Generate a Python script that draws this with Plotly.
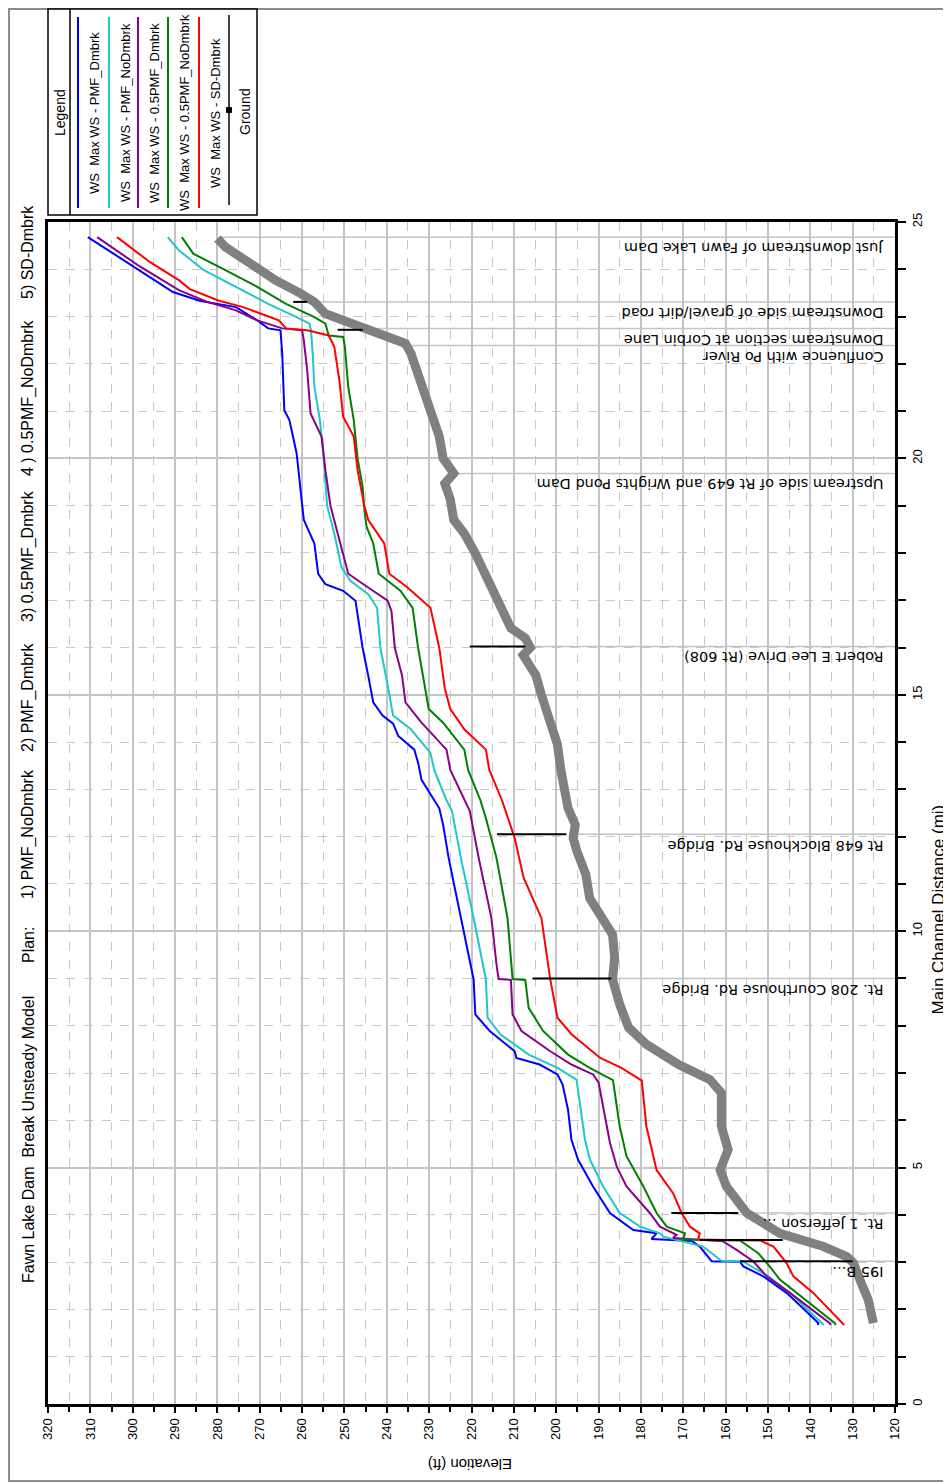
import plotly.graph_objects as go

# ---------------- data (distance in miles, elevation in ft) ----------------
blue_d = [24.68, 24.07, 23.52, 23.33, 23.20, 22.92, 22.75, 22.71, 22.22, 21.02, 20.81, 20.11, 19.13, 18.70, 18.20,
          17.56, 17.34, 17.20, 16.99, 16.49, 15.99, 15.41, 14.84, 14.56, 14.39, 14.13, 13.84, 13.56, 13.20, 12.77,
          12.60, 12.25, 11.55, 10.85, 10.28, 9.58, 8.98, 8.24, 7.89, 7.46, 7.32, 7.18, 6.97, 6.76, 6.22, 5.59, 5.16,
          4.60, 4.04, 3.68, 3.61, 3.49, 3.45, 3.33, 3.12, 3.02, 3.01, 2.91, 2.70, 2.35, 1.99, 1.71, 1.67]
blue_e = [310.6, 299.9, 290.5, 284.0, 275.6, 270.6, 268.0, 265.1, 264.7, 264.2, 263.0, 261.3, 260.0, 259.6, 257.1,
          256.2, 254.5, 250.3, 247.4, 246.5, 245.7, 244.4, 243.2, 241.0, 238.5, 237.3, 233.5, 232.6, 231.8, 228.8,
          227.6, 226.7, 225.4, 223.8, 222.5, 220.8, 219.5, 219.1, 215.7, 209.8, 209.4, 203.9, 199.7, 198.5, 197.2, 196.4, 194.8,
          191.3, 187.3, 181.8, 176.3, 177.5, 168.0, 166.1, 164.1, 163.3, 156.6, 155.8, 151.1, 145.6, 141.3, 138.1, 138.2]

cyan_d = [24.68, 24.40, 23.98, 23.63, 23.27, 22.99, 22.85, 22.71, 22.22, 21.51, 20.81, 20.11, 19.40, 19.00, 18.41,
          17.70, 17.41, 17.13, 16.84, 15.99, 15.20, 14.56, 14.27, 13.77, 13.41, 12.77, 12.54, 11.55, 10.28, 9.58, 8.98,
          8.17, 7.82, 7.39, 7.11, 6.86, 5.59, 5.16, 4.60, 4.04, 3.75, 3.61, 3.54, 3.33, 3.19, 3.03, 3.01, 2.70, 2.35,
          1.71, 1.67]
cyan_e = [291.7, 289.1, 283.2, 275.6, 268.0, 261.3, 258.3, 257.9, 257.5, 257.1, 255.8, 255.0, 254.5, 254.1, 252.4,
          250.7, 248.6, 244.4, 242.3, 241.5, 239.8, 238.5, 234.3, 229.7, 228.8, 225.9, 224.6, 222.5, 219.5, 217.9, 216.6,
          216.2, 213.2, 206.5, 199.7, 195.2, 193.2, 192.0, 188.9, 185.0, 180.2, 175.5, 174.7, 165.3, 163.3, 161.0, 155.8, 149.9, 144.8,
          137.3, 136.8]

purple_d = [24.68, 24.07, 23.56, 23.31, 23.13, 22.92, 22.75, 22.71, 22.50, 21.87, 20.95, 20.46, 19.75, 19.00, 18.41,
            17.56, 17.27, 16.99, 16.77, 15.99, 15.41, 14.84, 14.41, 13.84, 13.41, 12.77, 12.54, 11.55, 10.28, 9.30, 8.99,
            8.97, 8.24, 7.89, 7.46, 7.18, 6.97, 6.80, 5.87, 5.52, 5.02, 4.60, 4.04, 3.75, 3.58, 3.51, 3.44, 3.26, 3.02,
            2.70, 2.35, 1.71, 1.67]
purple_e = [308.4, 298.5, 289.1, 282.4, 275.6, 270.6, 264.7, 260.0, 259.6, 258.8, 258.0, 255.4, 254.5, 253.3, 251.6,
            249.1, 244.4, 239.8, 238.9, 238.1, 236.4, 235.6, 231.8, 225.9, 225.0, 221.7, 220.4, 218.3, 215.3, 214.1, 213.6,
            210.7, 210.3, 208.2, 201.4, 196.4, 191.3, 190.0, 188.1, 187.3, 185.7, 183.4, 177.9, 175.5, 171.6, 172.4, 160.6, 157.4, 153.5,
            150.3, 144.8, 135.4, 135.2]

green_d = [24.68, 24.33, 23.98, 23.63, 23.27, 22.99, 22.85, 22.60, 22.57, 22.36, 21.51, 20.81, 20.00, 19.40, 19.00,
           18.56, 18.20, 17.56, 17.20, 16.84, 15.99, 15.13, 14.70, 14.41, 13.84, 13.41, 12.77, 12.39, 11.55, 10.28, 8.99,
           8.97, 8.38, 7.89, 7.39, 7.11, 6.85, 5.87, 5.24, 4.60, 4.04, 3.75, 3.61, 3.48, 3.46, 3.19, 2.90, 2.63, 2.35,
           1.71, 1.67]
green_e = [288.4, 285.7, 278.1, 270.6, 263.8, 257.1, 254.5, 253.7, 250.3, 249.9, 249.1, 247.8, 246.9, 245.7, 245.4,
           244.8, 243.2, 241.9, 236.8, 233.9, 232.6, 230.9, 230.1, 226.7, 221.7, 220.8, 217.9, 216.6, 214.1, 211.5, 210.3,
           207.3, 206.5, 203.1, 197.2, 192.1, 186.6, 185.0, 183.4, 179.4, 176.3, 173.9, 169.6, 170.0, 156.6, 152.3, 149.5, 147.2, 143.2,
           134.2, 134.0]

red_d = [24.68, 24.15, 23.77, 23.58, 23.34, 23.20, 22.92, 22.75, 22.71, 22.60, 22.36, 21.65, 20.88, 20.46, 19.75,
         19.00, 18.70, 18.20, 17.56, 17.27, 16.84, 15.99, 15.13, 14.70, 14.27, 13.84, 13.41, 12.77, 11.97, 11.13, 10.28,
         9.58, 8.98, 8.17, 7.82, 7.32, 7.11, 6.84, 5.87, 4.95, 4.46, 4.04, 3.75, 3.61, 3.48, 3.46, 3.33, 2.98, 2.70,
         2.35, 1.71, 1.67]
red_e = [303.7, 295.9, 289.1, 286.5, 279.8, 273.9, 265.5, 263.8, 258.8, 253.7, 252.4, 251.2, 250.3, 247.8, 246.9,
         245.3, 244.4, 240.6, 239.4, 235.1, 229.7, 227.6, 226.3, 225.0, 221.7, 216.6, 215.8, 212.8, 209.8, 207.7, 203.5,
         202.3, 201.4, 199.7, 196.4, 189.6, 184.6, 179.8, 178.7, 176.3, 172.4, 170.4, 168.4, 166.1, 166.5, 151.9, 148.7, 145.6, 144.0,
         139.3, 132.2, 132.0]

ground_d = [24.65, 24.47, 24.12, 23.77, 23.49, 23.31, 23.06, 22.92, 22.71, 22.57, 22.43, 22.22, 21.87, 21.51, 21.02,
            20.46, 20.00, 19.68, 19.47, 19.13, 18.70, 18.41, 17.99, 17.41, 16.99, 16.41, 16.20, 16.00, 15.84, 15.41,
            15.00, 14.49, 13.95, 13.41, 12.84, 12.60, 12.25, 11.97, 11.69, 11.20, 10.70, 10.28, 9.93, 9.44, 8.98, 8.45,
            7.96, 7.60, 7.18, 6.86, 6.58, 5.87, 5.38, 4.95, 4.60, 4.32, 4.04, 3.61, 3.33, 3.12, 2.98, 2.63, 2.20, 1.71]
ground_e = [280.0, 278.1, 272.2, 266.3, 260.4, 257.1, 254.5, 250.3, 245.3, 240.2, 235.6, 234.3, 233.0, 231.8, 230.1,
            227.6, 226.7, 224.2, 226.3, 225.0, 224.2, 221.7, 219.1, 216.2, 214.1, 210.7, 207.3, 206.1, 207.8, 204.8,
            203.5, 201.4, 199.7, 198.9, 198.0, 197.2, 195.5, 196.0, 195.1, 193.0, 192.1, 189.2, 186.7, 186.2, 186.7, 185.0,
            182.9, 178.6, 171.1, 163.7, 161.0, 161.0, 159.4, 161.3, 159.8, 157.4, 155.0, 147.2, 136.9, 131.4, 129.8, 128.3, 126.3, 125.1]

# labelled river stations: name, distance, ground elevation at the station
loc_names = ["Just downstream of Fawn Lake Dam", "Downstream side of gravel/dirt road",
             "Downstream section at Corbin Lane", "Confluence with Po River",
             "Upstream side of Rt 649 and Wrights Pond Dam", "Robert E Lee Drive (Rt 608)",
             "Rt 648 Blockhouse Rd. Bridge", "Rt. 208 Courthouse Rd. Bridge",
             "Rt. 1 Jefferson ...", "I95 B..."]
loc_dist = [24.68, 23.31, 22.75, 22.39, 19.68, 16.02, 12.05, 9.00, 4.04, 3.02]
loc_ground = [280.0, 257.1, 245.5, 235.5, 224.2, 206.1, 196.0, 186.7, 155.0, 130.0]

# bridge / road decks (distance, low elevation, high elevation)
deck_dist = [23.31, 22.72, 16.02, 12.05, 9.00, 4.04, 3.47, 3.02]
deck_low = [258.8, 245.7, 207.3, 197.6, 187.0, 157.0, 146.5, 130.0]
deck_high = [262.1, 251.6, 220.4, 214.0, 205.6, 172.8, 166.0, 156.6]

elev_ticks = list(range(120, 321, 10))
dist_ticks = [0, 5, 10, 15, 20, 25]

series = [
    ("WS  Max WS - PMF_Dmbrk", blue_d, blue_e, "#0000FF"),
    ("WS  Max WS - PMF_NoDmbrk", cyan_d, cyan_e, "#1EC8C8"),
    ("WS  Max WS - 0.5PMF_Dmbrk", purple_d, purple_e, "#8B008B"),
    ("WS  Max WS - 0.5PMF_NoDmbrk", green_d, green_e, "#008000"),
    ("WS  Max WS - SD-Dmbrk", red_d, red_e, "#FF0000"),
]

# ---------------- layout geometry (page pixels; the page has an 8px body offset) ----------------
OFF = 8
W, H = 951, 1483
PL, PT, PR, PB = 48, 222, 895, 1404          # plot area on the page
PW, PH = PR - PL, PB - PT
ML, MT = PL - OFF, PT - OFF
MR, MB = W - ML - PW, H - MT - PH


def px(x):
    return (x - PL) / PW


def py(y):
    return (PB - y) / PH


FONT = "Liberation Sans, Arial, sans-serif"

fig = go.Figure()

# station lines (ground to bottom of elevation range)
for d, g in zip(loc_dist, loc_ground):
    fig.add_trace(go.Scatter(x=[g, 120], y=[d, d], mode="lines",
                             line=dict(color="#C4C4C4", width=1.5), hoverinfo="skip", showlegend=False))

fig.add_trace(go.Scatter(x=ground_e, y=ground_d, mode="lines", name="Ground",
                         line=dict(color="#808080", width=9), showlegend=False))

for name, d, e, c in series:
    fig.add_trace(go.Scatter(x=e, y=d, mode="lines", name=name,
                             line=dict(color=c, width=2), showlegend=False))

for d, lo, hi in zip(deck_dist, deck_low, deck_high):
    fig.add_trace(go.Scatter(x=[lo, hi], y=[d, d], mode="lines",
                             line=dict(color="black", width=2), hoverinfo="skip", showlegend=False))

annotations = []
for name, d in zip(loc_names, loc_dist):
    annotations.append(dict(x=122.3, y=d, xref="x", yref="y", text=name, showarrow=False,
                            textangle=180, xanchor="right", yanchor="top", yshift=-1,
                            font=dict(family="DejaVu Sans, sans-serif", size=14.5, color="black")))

# title pieces (rotated)
title_parts = [("Fawn Lake Dam  Break Unsteady Model", 1140), ("Plan:", 945),
               ("1) PMF_NoDmbrk", 834), ("2) PMF_Dmbrk", 698), ("3) 0.5PMF_Dmbrk", 556),
               ("4 ) 0.5PMF_NoDmbrk", 398), ("5) SD-Dmbrk", 252)]
for t, yc in title_parts:
    annotations.append(dict(x=px(28), y=py(yc), xref="paper", yref="paper", text=t, showarrow=False,
                            textangle=-90, xanchor="center", yanchor="middle",
                            font=dict(family=FONT, size=16, color="black")))

# axis titles
annotations.append(dict(x=px(470), y=py(1465), xref="paper", yref="paper", text="Elevation (ft)",
                        showarrow=False, textangle=180, xanchor="center", yanchor="middle",
                        font=dict(family=FONT, size=15, color="black")))
annotations.append(dict(x=px(949), y=py(910), xref="paper", yref="paper", text="Main Channel Distance (mi)",
                        showarrow=False, textangle=-90, xanchor="right", yanchor="middle",
                        font=dict(family=FONT, size=17, color="black")))

shapes = []
# outer frame
shapes.append(dict(type="rect", xref="paper", yref="paper", x0=px(9), x1=px(1000), y0=py(1481), y1=py(9),
                   line=dict(color="#8C8C8C", width=2), fillcolor="rgba(0,0,0,0)", layer="below"))
# legend box
shapes.append(dict(type="rect", xref="paper", yref="paper", x0=px(48), x1=px(257), y0=py(215), y1=py(9),
                   line=dict(color="black", width=1.5), fillcolor="white"))
shapes.append(dict(type="line", xref="paper", yref="paper", x0=px(70), x1=px(70), y0=py(215), y1=py(9),
                   line=dict(color="black", width=1.5)))
annotations.append(dict(x=px(60), y=py(113), xref="paper", yref="paper", text="Legend", showarrow=False,
                        textangle=-90, xanchor="center", yanchor="middle",
                        font=dict(family=FONT, size=14, color="black")))
leg_x = [78, 109, 138, 168, 199]
for (name, d, e, c), lx in zip(series, leg_x):
    shapes.append(dict(type="line", xref="paper", yref="paper", x0=px(lx), x1=px(lx), y0=py(208), y1=py(17),
                       line=dict(color=c, width=2)))
    annotations.append(dict(x=px(lx + 16), y=py(113), xref="paper", yref="paper", text=name, showarrow=False,
                            textangle=-90, xanchor="center", yanchor="middle",
                            font=dict(family=FONT, size=13, color="black")))
# ground legend entry
shapes.append(dict(type="line", xref="paper", yref="paper", x0=px(229), x1=px(229), y0=py(205), y1=py(15),
                   line=dict(color="black", width=1.5)))
shapes.append(dict(type="rect", xref="paper", yref="paper", x0=px(226.5), x1=px(231.5), y0=py(112.5), y1=py(107.5),
                   line=dict(color="black", width=1), fillcolor="black"))
annotations.append(dict(x=px(245), y=py(112), xref="paper", yref="paper", text="Ground", showarrow=False,
                        textangle=-90, xanchor="center", yanchor="middle",
                        font=dict(family=FONT, size=14, color="black")))

fig.update_layout(
    width=W, height=H,
    margin=dict(l=ML, r=MR, t=MT, b=MB, autoexpand=False),
    paper_bgcolor="white", plot_bgcolor="white",
    showlegend=False,
    annotations=annotations, shapes=shapes,
    font=dict(family=FONT, color="black"),
)
fig.update_xaxes(
    range=[320, 120], tickvals=elev_ticks, ticktext=[str(v) for v in elev_ticks],
    tickangle=-90, tickfont=dict(family=FONT, size=13, color="black"),
    ticks="outside", ticklen=6, tickwidth=1.5, tickcolor="black",
    showgrid=True, gridcolor="#C4C4C4", gridwidth=1.5,
    minor=dict(dtick=5, tick0=0, ticks="outside", ticklen=5, tickcolor="black", tickwidth=1.5,
               showgrid=True, gridcolor="#C8C8C8", griddash="dash", gridwidth=1),
    showline=True, linecolor="black", linewidth=3, mirror=True, zeroline=False,
)
fig.update_yaxes(
    range=[0, 25], tickvals=dist_ticks, side="right",
    tickangle=-90, tickfont=dict(family=FONT, size=13, color="black"),
    ticks="outside", ticklen=8, tickwidth=1.5, tickcolor="black",
    showgrid=True, gridcolor="#C4C4C4", gridwidth=1.5,
    minor=dict(dtick=1, tick0=0, ticks="outside", ticklen=8, tickcolor="black", tickwidth=1.5,
               showgrid=True, gridcolor="#C8C8C8", griddash="dash", gridwidth=1),
    showline=True, linecolor="black", linewidth=3, mirror=True, zeroline=False,
)

fig.write_html("out.html")
